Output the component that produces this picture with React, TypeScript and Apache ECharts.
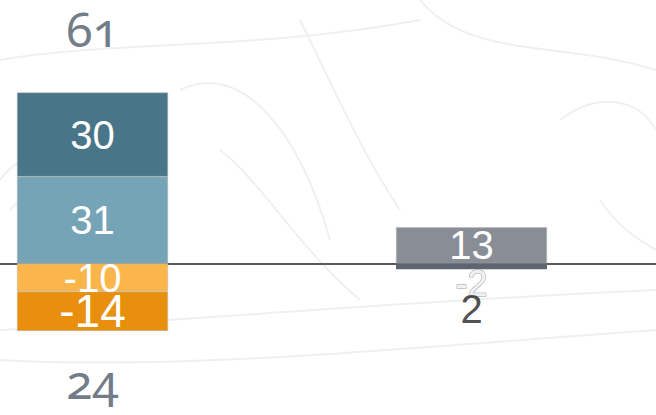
import React, { useEffect, useRef } from "react";
import * as echarts from "echarts";

const categories = ["A", "B"];
const seriesNames = ["S2", "S1", "S3", "S4", "S5", "S6"];
const s2 = [31, null];
const s1 = [30, null];
const s3 = [-10, null];
const s4 = [-14, null];
const s5 = [null, 13];
const s6 = [null, -2];
const positiveTotals = [61, null];
const negativeTotals = [24, 2];

const colors = ["#76a4b7", "#487587", "#fbb64b", "#e8900d", "#898d96", "#5e6570"];
const SHIFT = 97;

export default function App() {
  const ref = useRef<HTMLDivElement>(null);
  useEffect(() => {
    document.body.style.margin = "0";
    const chart = echarts.init(ref.current!, null, { renderer: "svg" });
    const segData = [s2, s1, s3, s4, s5, s6];
    const segFont = [40, 40, 40, 46, 40, 36];
    const series: any[] = segData.map((d, i) => ({
      name: seriesNames[i],
      type: "bar",
      stack: "total",
      barWidth: 151,
      data: d,
      itemStyle: { color: colors[i], borderColor: "#b8b8b8", borderWidth: i === 5 ? 0 : 0.5 },
      label: {
        show: true,
        position: i === 5 ? "bottom" : "inside",
        distance: -4,
        color: i === 5 ? "#f2f2f2" : "#ffffff",
        textBorderColor: i === 5 ? "#9a9a9a" : "transparent",
        textBorderWidth: i === 5 ? 1 : 0,
        fontFamily: "Liberation Sans, Arial, sans-serif",
        fontSize: segFont[i],
        formatter: (p: any) => String(p.value),
      },
    }));
    const posStack = categories.map((_, i) =>
      [s1, s2, s5].reduce((a, arr) => a + (arr[i] && arr[i]! > 0 ? arr[i]! : 0), 0)
    );
    const negStack = categories.map((_, i) =>
      [s3, s4, s6].reduce((a, arr) => a + (arr[i] && arr[i]! < 0 ? arr[i]! : 0), 0)
    );
    const totalFont = "Noto Sans, Open Sans, sans-serif";
    series.push({
      name: "posTotal",
      type: "scatter",
      symbolSize: 0,
      silent: true,
      data: positiveTotals.map((t, i) =>
        t == null ? null : { value: [i, posStack[i]], label: { show: true, formatter: String(t) } }
      ),
      label: {
        show: true,
        position: "top",
        distance: 40,
        color: "#4b5969",
        fontFamily: totalFont,
        fontSize: 48,
        lineHeight: 48,
      },
    });
    series.push({
      name: "negTotal",
      type: "scatter",
      symbolSize: 0,
      silent: true,
      data: negativeTotals.map((t, i) =>
        t == null
          ? null
          : {
              value: [i, negStack[i]],
              label: {
                show: true,
                formatter: String(t),
                distance: i === 0 ? 26 : 20,
                color: i === 0 ? "#4b5969" : "#222222",
                fontFamily: i === 0 ? totalFont : "Liberation Sans, Arial, sans-serif",
                fontSize: i === 0 ? 48 : 40,
                lineHeight: i === 0 ? 48 : 40,
              },
            }
      ),
      label: { show: true, position: "bottom" },
    });

    const curves: any[] = [
      [[0, 60], [120, 40], [260, 50], [420, 20]],
      [[420, 0], [470, 60], [560, 40], [656, 70]],
      [[180, 90], [240, 60], [300, 130], [330, 240]],
      [[220, 150], [260, 180], [300, 250], [360, 300]],
      [[0, 180], [30, 140], [60, 160], [10, 210]],
      [[0, 330], [200, 320], [420, 300], [656, 290]],
      [[0, 360], [180, 370], [380, 350], [656, 330]],
      [[560, 120], [600, 90], [640, 100], [656, 130]],
      [[300, 20], [330, 80], [360, 150], [400, 210]],
      [[600, 200], [620, 230], [640, 240], [656, 250]],
    ].map((pts) => ({
      type: "bezierCurve",
      z: 0,
      silent: true,
      shape: {
        x1: pts[0][0] + SHIFT, y1: pts[0][1],
        cpx1: pts[1][0] + SHIFT, cpy1: pts[1][1],
        cpx2: pts[2][0] + SHIFT, cpy2: pts[2][1],
        x2: pts[3][0] + SHIFT, y2: pts[3][1],
      },
      style: { stroke: "#f0f0f0", lineWidth: 2, fill: null },
    }));

    chart.setOption({
      animation: false,
      backgroundColor: "#ffffff",
      graphic: curves,
      grid: { left: 0, right: 0, top: 0, bottom: 0 },
      xAxis: {
        type: "category",
        data: categories,
        axisLine: { show: true, onZero: true, lineStyle: { color: "#555b60", width: 2 } },
        axisTick: { show: false },
        axisLabel: { show: false },
        splitLine: { show: false },
      },
      yAxis: {
        type: "value",
        min: -54,
        max: 94,
        show: false,
        splitLine: { show: false },
      },
      series,
    });
    return () => chart.dispose();
  }, []);
  return (
    <>
      <style>{`svg text { font-feature-settings: "onum" 1; }`}</style>
      <div style={{ width: 656, height: 415, overflow: "hidden", position: "relative" }}>
        <div ref={ref} style={{ width: 758, height: 415, position: "absolute", left: -SHIFT, top: 0 }} />
      </div>
    </>
  );
}
